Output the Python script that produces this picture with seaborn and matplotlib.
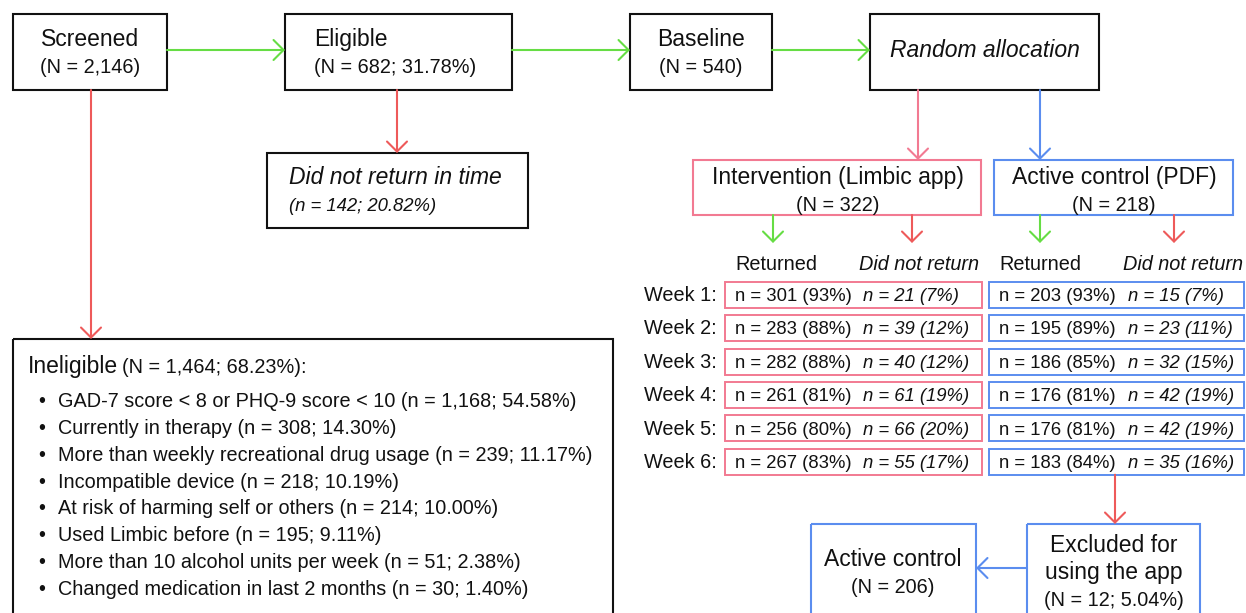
import matplotlib
matplotlib.use("Agg")
import matplotlib.pyplot as plt
from matplotlib.patches import Rectangle
import seaborn as sns

# ---------------- data ----------------
screened_n = "2,146"
eligible_text = "(N = 682; 31.78%)"
baseline_n = 540
dnr_time_text = "(n = 142; 20.82%)"
ineligible_text = "(N = 1,464; 68.23%):"
ineligible_reasons = [
    "GAD-7 score < 8 or PHQ-9 score < 10",
    "Currently in therapy",
    "More than weekly recreational drug usage",
    "Incompatible device",
    "At risk of harming self or others",
    "Used Limbic before",
    "More than 10 alcohol units per week",
    "Changed medication in last 2 months",
]
ineligible_counts = ["1,168", "308", "239", "218", "214", "195", "51", "30"]
ineligible_pcts = ["54.58", "14.30", "11.17", "10.19", "10.00", "9.11", "2.38", "1.40"]

intervention_n = 322
control_n = 218
weeks = ["Week 1:", "Week 2:", "Week 3:", "Week 4:", "Week 5:", "Week 6:"]
int_returned = [301, 283, 282, 261, 256, 267]
int_returned_pct = [93, 88, 88, 81, 80, 83]
int_dnr = [21, 39, 40, 61, 66, 55]
int_dnr_pct = [7, 12, 12, 19, 20, 17]
ctl_returned = [203, 195, 186, 176, 176, 183]
ctl_returned_pct = [93, 89, 85, 81, 81, 84]
ctl_dnr = [15, 23, 32, 42, 42, 35]
ctl_dnr_pct = [7, 11, 15, 19, 19, 16]
excluded_text = "(N = 12; 5.04%)"
final_control_n = 206

# ---------------- style ----------------
sns.set_theme(style="white")
plt.rcParams["font.family"] = ["Liberation Sans", "DejaVu Sans"]

GREEN = "#66dd44"
RED = "#ee5a5a"
PINK = "#f27a92"
BLUE = "#5b8def"
BLACK = "#111111"
TXT = "#111111"

fig = plt.figure(figsize=(12.46, 6.13), dpi=100)
ax = fig.add_axes([0, 0, 1, 1])
ax.set_xlim(0, 1246)
ax.set_ylim(613, 0)
ax.axis("off")

T1 = 16.5
T2 = 14.3
TR = 13.3


def box(x0, y0, x1, y1, color=BLACK, lw=1.5):
    ax.add_patch(Rectangle((x0, y0), x1 - x0, y1 - y0, fill=False,
                           edgecolor=color, lw=lw, zorder=2))


def arrow(x1, y1, x2, y2, color):
    ax.annotate("", xy=(x2, y2), xytext=(x1, y1),
                arrowprops=dict(arrowstyle="->,head_length=0.45,head_width=0.45",
                                color=color, lw=1.5, shrinkA=0, shrinkB=0,
                                mutation_scale=16), zorder=3)


def txt(x, y, s, size, ha="center", style="normal"):
    return ax.text(x, y, s, fontsize=size, ha=ha, va="baseline",
                   color=TXT, style=style, zorder=4)


# Top row boxes
box(13, 14, 167, 90)
txt(90, 46, "Screened", T1)
txt(90, 73, f"(N = {screened_n})", T2)

box(285, 14, 512, 90)
txt(314, 46, "Eligible", T1, ha="left")
txt(314, 73, eligible_text, T2, ha="left")

box(630, 14, 772, 90)
txt(701, 46, "Baseline", T1)
txt(701, 73, f"(N = {baseline_n})", T2)

box(870, 14, 1099, 90)
txt(985, 57, "Random allocation", T1, style="italic")

arrow(167, 50, 285, 50, GREEN)
arrow(512, 50, 630, 50, GREEN)
arrow(772, 50, 870, 50, GREEN)

# Did not return in time
arrow(397, 90, 397, 153, RED)
box(267, 153, 528, 228)
txt(289, 184, "Did not return in time", T1, ha="left", style="italic")
txt(289, 211, dnr_time_text, 13.3, ha="left", style="italic")

# Ineligible
arrow(91, 90, 91, 339, RED)
box(13, 339, 613, 640)
t_inel = txt(28, 373, "Ineligible", T1, ha="left")
fig.canvas.draw()
bb = t_inel.get_window_extent(renderer=fig.canvas.get_renderer())
x_end = ax.transData.inverted().transform((bb.x1, bb.y0))[0]
txt(x_end + 4, 373, ineligible_text, T2, ha="left")
for i, (r, c, p) in enumerate(zip(ineligible_reasons, ineligible_counts, ineligible_pcts)):
    yb = 407.3 + 26.8 * i
    txt(42, yb, "\u2022", T2)
    txt(58, yb, f"{r} (n = {c}; {p}%)", T2, ha="left")

# Arms
arrow(918, 90, 918, 160, PINK)
arrow(1040, 90, 1040, 160, BLUE)
box(693, 160, 981, 215, PINK)
txt(838, 184, "Intervention (Limbic app)", T1)
txt(838, 211, f"(N = {intervention_n})", T2)
box(994, 160, 1233, 215, BLUE)
txt(1114, 184, "Active control (PDF)", T1)
txt(1114, 211, f"(N = {control_n})", T2)

arrow(773, 215, 773, 243, GREEN)
arrow(912, 215, 912, 243, RED)
arrow(1040, 215, 1040, 243, GREEN)
arrow(1174, 215, 1174, 243, RED)

txt(776, 270, "Returned", T2)
txt(919, 270, "Did not return", T2, style="italic")
txt(1040, 270, "Returned", T2)
txt(1183, 270, "Did not return", T2, style="italic")

step = 33.4
for i, w in enumerate(weeks):
    top = 281.7 + step * i
    yb = 301 + step * i
    txt(717, yb, w, T2, ha="right")
    box(725, top, 982, top + 26, PINK, lw=1.4)
    box(989, top, 1244, top + 26, BLUE, lw=1.4)
    txt(735, yb, f"n = {int_returned[i]} ({int_returned_pct[i]}%)", TR, ha="left")
    txt(863, yb, f"n = {int_dnr[i]} ({int_dnr_pct[i]}%)", TR, ha="left", style="italic")
    txt(999, yb, f"n = {ctl_returned[i]} ({ctl_returned_pct[i]}%)", TR, ha="left")
    txt(1128, yb, f"n = {ctl_dnr[i]} ({ctl_dnr_pct[i]}%)", TR, ha="left", style="italic")

last_bottom = 281.7 + step * (len(weeks) - 1) + 26
arrow(1115, last_bottom, 1115, 524, RED)

# Excluded / final control
box(1027, 524, 1200, 640, BLUE)
txt(1114, 552, "Excluded for", T1)
txt(1114, 579, "using the app", T1)
txt(1114, 606.5, excluded_text, T2)

box(811, 524, 976, 640, BLUE)
txt(893, 566, "Active control", T1)
txt(893, 593, f"(N = {final_control_n})", T2)
arrow(1027, 568, 976, 568, BLUE)

fig.savefig("out.png", dpi=100, facecolor="white")
